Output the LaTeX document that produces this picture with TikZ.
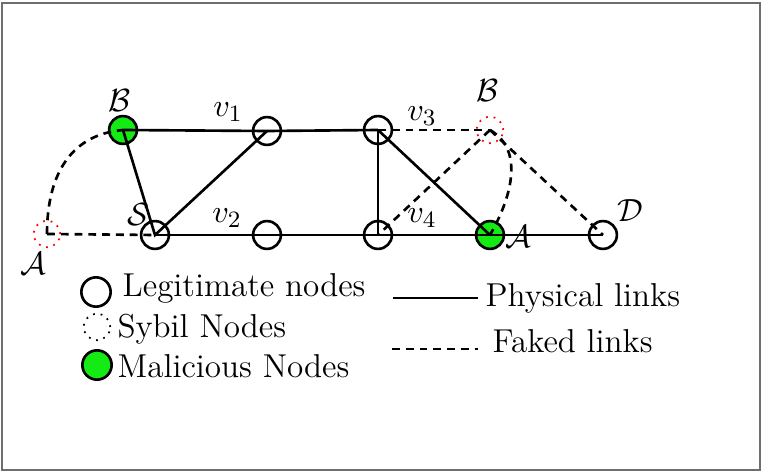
\documentclass[tikz,border=0pt]{standalone}
\usepackage{amsmath,amssymb}
\usepackage{tikz}
\usetikzlibrary{positioning,calc}
\usepackage{xcolor}
\definecolor{malgreen}{RGB}{20,235,20}
\definecolor{framegray}{RGB}{110,110,110}

\tikzset{
  legit/.style={circle,draw=black,line width=0.9pt,minimum size=9.5pt,inner sep=0pt},
  sybil/.style={circle,draw=red,dotted,semithick,minimum size=9pt,inner sep=0pt},
  malic/.style={circle,draw=black,line width=0.9pt,fill=malgreen,minimum size=9.5pt,inner sep=0pt},
  phys/.style={line width=0.9pt},
  fake/.style={line width=0.9pt,dash pattern=on 2.7pt off 2pt},
  lbl/.style={font=\fontsize{11.3}{13}\selectfont,inner sep=0pt},
}

\begin{document}
\begin{tikzpicture}[x=0.012cm,y=-0.012cm]
\useasboundingbox (0,0) rectangle (763,473);
\draw[framegray,line width=0.7pt] (2,3) rectangle (760,470);

% nodes of the network
\node[malic] (mB) at (123,130) {};
\node[legit] (v1) at (267,131) {};
\node[legit] (v3) at (378,130) {};
\node[sybil] (sB) at (490,130) {};
\node[sybil] (sA) at (47,234) {};
\node[legit] (S)  at (155,235) {};
\node[legit] (v2) at (267,235) {};
\node[legit] (v4) at (378,235) {};
\node[malic] (mA) at (490,235) {};
\node[legit] (D)  at (603,235) {};

% labels
\node[lbl] (lmB) at (120,101) {$\mathcal{B}$};
\node[lbl] (lv1) at (228,112) {$v_1$};
\node[lbl] (lv3) at (422,116) {$v_3$};
\node[lbl] (lsB) at (488,91)  {$\mathcal{B}$};
\node[lbl] (lS)  at (138,215) {$\mathcal{S}$};
\node[lbl] (lv2) at (227,218) {$v_2$};
\node[lbl] (lv4) at (422,218) {$v_4$};
\node[lbl] (lmA) at (518,237) {$\mathcal{A}$};
\node[lbl] (lD)  at (630,211) {$\mathcal{D}$};
\node[lbl] (lsA) at (33,264)  {$\mathcal{A}$};

% physical links
\draw[phys] (mB.center) -- (v1.center) -- (v3.center);
\draw[phys] (mB.center) -- (S.center) -- (v1.center);
\draw[phys] (S.center) -- (v2.center) -- (v4.center) -- (mA.center) -- (D.center);
\draw[phys] (v3.center) -- (v4.center);
\draw[phys] (v3.center) -- (mA.center);

% faked links
\draw[fake] (sA.center) -- (S.center);
\draw[fake] (sA.center) to[out=90,in=185,looseness=1.1] (mB.center);
\draw[fake] (v3.center) -- (sB.center);
\draw[fake] (sB.center) -- (v4.center);
\draw[fake] (sB.center) -- (D.center);
\draw[fake] (sB.center) to[out=-30,in=60] (mA.center);

% legend
\node[legit,minimum size=10pt] (kL) at (96,292) {};
\node[circle,draw=black,dotted,semithick,minimum size=9pt,inner sep=0pt] (kS) at (97,327) {};
\node[malic,minimum size=10pt] (kM) at (97,365) {};
\node[lbl,anchor=west] (tL) at (122,288) {Legitimate nodes};
\node[lbl,anchor=west] (tS) at (117,329) {Sybil Nodes};
\node[lbl,anchor=west] (tM) at (117,366) {Malicious Nodes};

\coordinate (p1) at (393,298);
\coordinate (p2) at (478,298);
\coordinate (f1) at (392,349);
\coordinate (f2) at (478,349);
\draw[phys] (p1) -- (p2);
\draw[fake] (f1) -- (f2);
\node[lbl,anchor=west] (tP) at (485,298) {Physical links};
\node[lbl,anchor=west] (tF) at (492,341) {Faked links};
\end{tikzpicture}
\end{document}
